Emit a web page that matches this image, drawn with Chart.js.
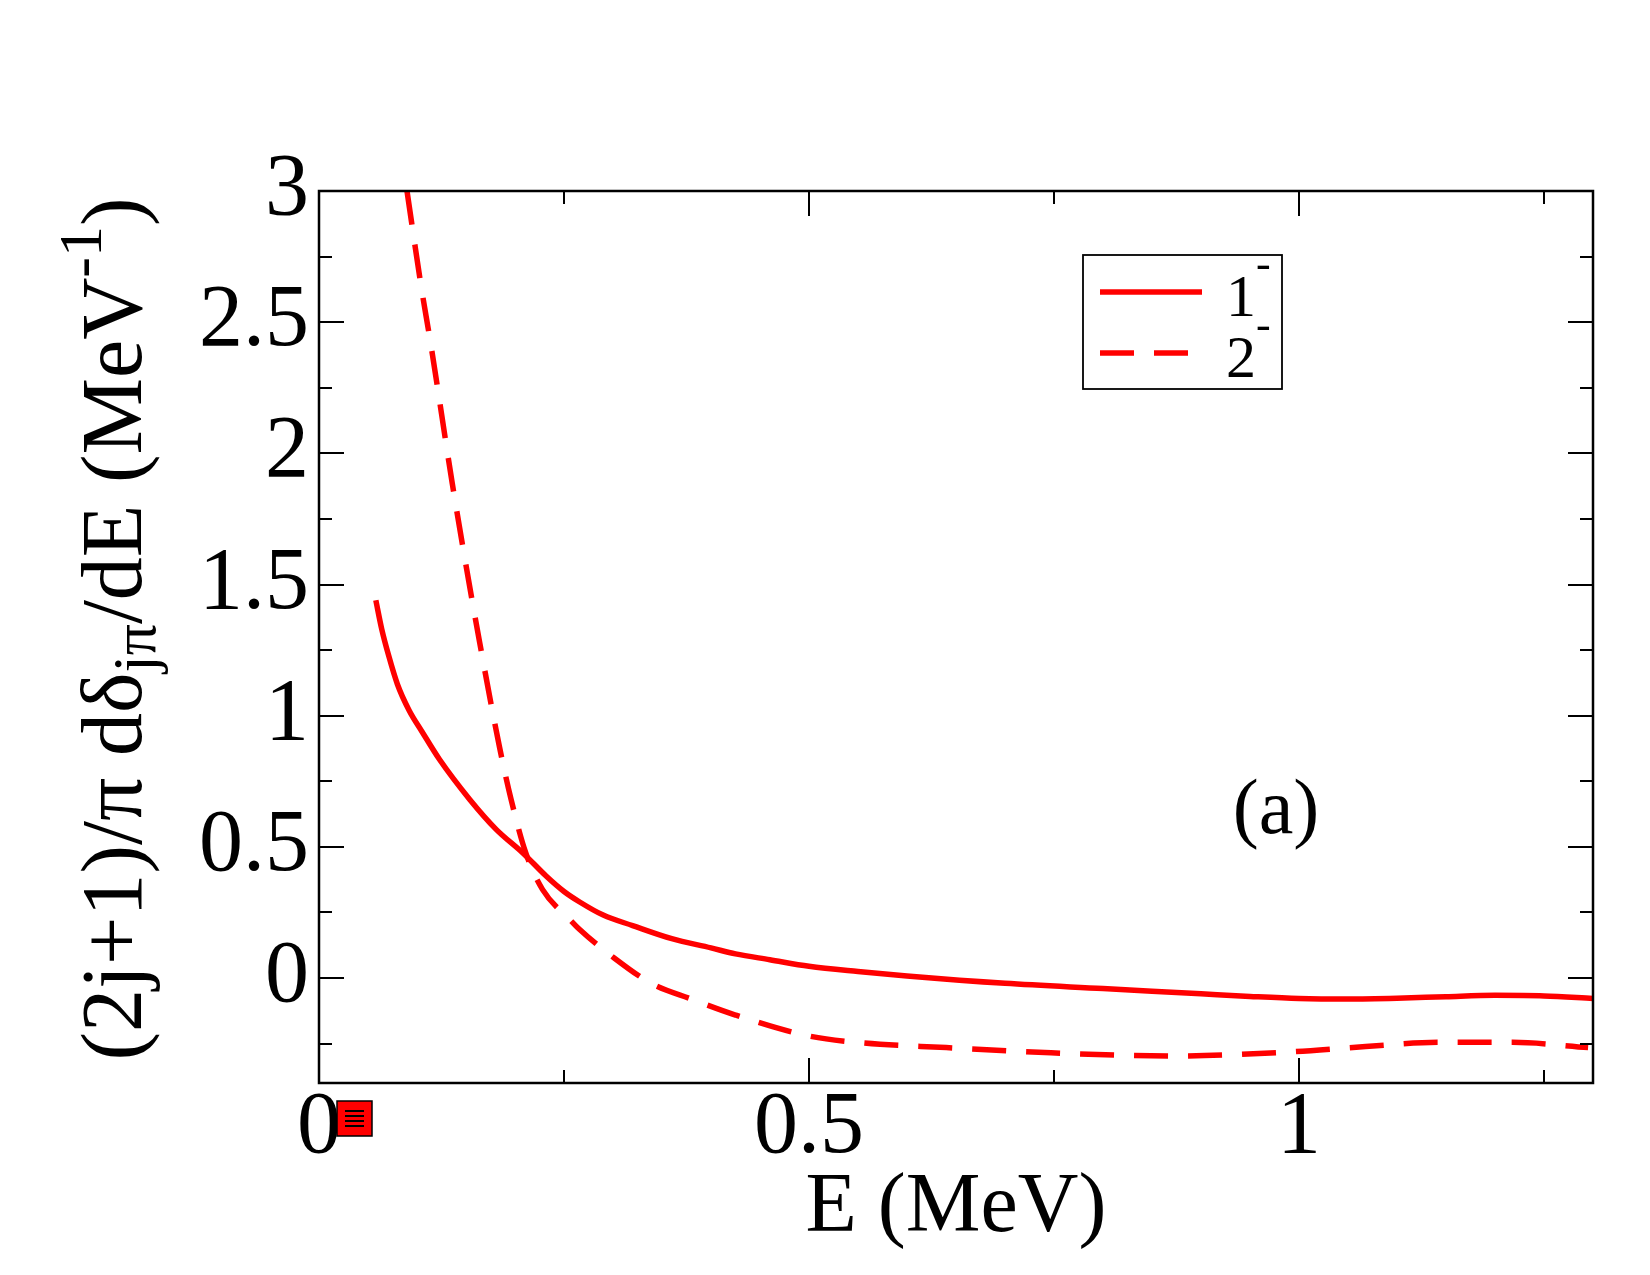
<!DOCTYPE html>
<html>
<head>
<meta charset="utf-8">
<script src="https://cdn.jsdelivr.net/npm/chart.js@4.4.0/dist/chart.umd.min.js"></script>
<style>
  body { margin: 0; background: #fff; }
  #wrap { width: 1650px; height: 1275px; }
</style>
</head>
<body>
<div id="wrap"><canvas id="chart" width="1650" height="1275"></canvas></div>
<script>
// values, E in MeV
const energy1 = [0.058, 0.064, 0.071, 0.080, 0.092, 0.105, 0.123, 0.154, 0.181, 0.208, 0.232, 0.250, 0.266, 0.290, 0.320, 0.360, 0.400, 0.425, 0.460, 0.500, 0.550, 0.600, 0.700, 0.800, 0.900, 0.950, 1.000, 1.050, 1.100, 1.150, 1.200, 1.250, 1.300];
const value1  = [1.44, 1.33, 1.23, 1.12, 1.02, 0.94, 0.833, 0.68, 0.566, 0.477, 0.388, 0.33, 0.29, 0.24, 0.20, 0.15, 0.115, 0.092, 0.07, 0.045, 0.025, 0.008, -0.02, -0.04, -0.06, -0.07, -0.078, -0.08, -0.077, -0.071, -0.066, -0.068, -0.078];

const energy2 = [0.0898, 0.1038, 0.1145, 0.136, 0.149, 0.164, 0.184, 0.196, 0.211, 0.228, 0.256, 0.266, 0.300, 0.339, 0.380, 0.425, 0.500, 0.554, 0.640, 0.747, 0.875, 0.993, 1.068, 1.143, 1.218, 1.295];
const value2  = [3.0, 2.647, 2.406, 1.885, 1.595, 1.278, 0.884, 0.681, 0.477, 0.338, 0.223, 0.185, 0.08, -0.02, -0.08, -0.141, -0.221, -0.247, -0.265, -0.285, -0.297, -0.281, -0.261, -0.245, -0.245, -0.265];

const seriesNames = ['1', '2'];
const xTickValues = [0, 0.5, 1];
const yTickValues = [0, 0.5, 1, 1.5, 2, 2.5, 3];
const panelLabel = '(a)';

const serif = '"Liberation Serif", "Times New Roman", serif';

// box round the plot with inward ticks on all four sides
const frame = {
  id: 'frame',
  afterDatasetsDraw(chart) {
    const { ctx, chartArea: a, scales: { x, y } } = chart;
    const isMajor = v => Math.abs(v * 2 - Math.round(v * 2)) < 1e-6;
    ctx.save();
    ctx.strokeStyle = '#000';
    ctx.lineWidth = 2;
    ctx.beginPath();
    for (let v = 0.25; v < x.max - 1e-6; v += 0.25) {
      const px = Math.round(x.getPixelForValue(v));
      const len = isMajor(v) ? 25 : 13;
      ctx.moveTo(px, a.bottom); ctx.lineTo(px, a.bottom - len);
      ctx.moveTo(px, a.top); ctx.lineTo(px, a.top + len);
    }
    for (let v = -0.25; v < y.max - 1e-6; v += 0.25) {
      const py = Math.round(y.getPixelForValue(v));
      const len = isMajor(v) ? 25 : 13;
      ctx.moveTo(a.left, py); ctx.lineTo(a.left + len, py);
      ctx.moveTo(a.right, py); ctx.lineTo(a.right - len, py);
    }
    ctx.stroke();
    ctx.lineWidth = 2.5;
    ctx.strokeRect(a.left, a.top, a.right - a.left, a.bottom - a.top);
    ctx.restore();
  }
};

function drawParts(ctx, parts, x0, y0) {
  let cx = x0;
  parts.forEach(p => {
    ctx.font = p.size + 'px ' + serif;
    ctx.fillText(p.text, cx, y0 + (p.shift || 0));
    cx += ctx.measureText(p.text).width;
  });
}

function partsWidth(ctx, parts) {
  let w = 0;
  parts.forEach(p => {
    ctx.font = p.size + 'px ' + serif;
    w += ctx.measureText(p.text).width;
  });
  return w;
}

// y title with sub/superscripts, legend, panel label and the little marker
const extras = {
  id: 'extras',
  afterDraw(chart) {
    const { ctx, chartArea: a } = chart;
    ctx.save();
    ctx.fillStyle = '#000';
    ctx.textBaseline = 'alphabetic';
    ctx.textAlign = 'left';

    const yTitle = [
      { text: '(2j+1)/\u03c0 d\u03b4', size: 86 },
      { text: 'j\u03c0', size: 62, shift: 14 },
      { text: '/dE (MeV', size: 86 },
      { text: '-1', size: 62, shift: -40 },
      { text: ')', size: 86 }
    ];
    const tw = partsWidth(ctx, yTitle);
    ctx.save();
    ctx.translate(141, (a.top + a.bottom) / 2 - 8);
    ctx.rotate(-Math.PI / 2);
    drawParts(ctx, yTitle, -tw / 2, 0);
    ctx.restore();

    // legend
    const lx = a.left + 764, ly = a.top + 64;
    ctx.lineWidth = 1.8;
    ctx.strokeStyle = '#000';
    ctx.strokeRect(lx, ly, 199, 134);
    chart.data.datasets.forEach((ds, i) => {
      const rowY = ly + 37 + i * 61;
      ctx.save();
      ctx.strokeStyle = ds.borderColor;
      ctx.lineWidth = ds.borderWidth;
      ctx.setLineDash(ds.borderDash || []);
      ctx.beginPath();
      ctx.moveTo(lx + 17, rowY);
      ctx.lineTo(lx + 119, rowY);
      ctx.stroke();
      ctx.restore();
      drawParts(ctx, [
        { text: seriesNames[i], size: 60 },
        { text: '-', size: 44, shift: -38 }
      ], lx + 143, rowY + 24);
    });

    // panel label
    ctx.font = '78px ' + serif;
    ctx.textAlign = 'center';
    ctx.fillText(panelLabel, 1276, 833);

    // small red marker below the origin
    const mx = a.left + 18, my = a.bottom + 18;
    ctx.fillStyle = '#ff0000';
    ctx.fillRect(mx, my, 35, 35);
    ctx.lineWidth = 1.5;
    ctx.strokeStyle = '#000';
    ctx.strokeRect(mx, my, 35, 35);
    ctx.lineWidth = 2;
    ctx.beginPath();
    for (let k = 0; k < 4; k++) {
      ctx.moveTo(mx + 8, my + 10 + k * 5);
      ctx.lineTo(mx + 27, my + 10 + k * 5);
    }
    ctx.stroke();
    ctx.restore();
  }
};

const ctx = document.querySelector('#chart').getContext('2d');
const chart = new Chart(ctx, {
  type: 'line',
  data: {
    datasets: [{
      label: seriesNames[0],
      data: energy1.map((e, i) => ({ x: e, y: value1[i] })),
      borderColor: '#ff0000',
      borderWidth: 5.5,
      pointRadius: 0,
      cubicInterpolationMode: 'monotone',
      clip: 0
    }, {
      label: seriesNames[1],
      data: energy2.map((e, i) => ({ x: e, y: value2[i] })),
      borderColor: '#ff0000',
      borderWidth: 5.5,
      borderDash: [34, 20],
      pointRadius: 0,
      cubicInterpolationMode: 'monotone',
      clip: 0
    }]
  },
  options: {
    responsive: false,
    animation: false,
    layout: { padding: { top: 191, right: 57, left: 0, bottom: 0 } },
    scales: {
      x: {
        type: 'linear',
        min: 0,
        max: 1.3,
        afterBuildTicks: s => { s.ticks = xTickValues.map(v => ({ value: v })); },
        afterFit: s => { s.height = 192; },
        grid: { display: false, drawTicks: false },
        border: { display: false },
        ticks: {
          color: '#000',
          padding: 2,
          maxRotation: 0,
          font: { family: serif, size: 88, lineHeight: 1 },
          callback: v => String(v)
        },
        title: {
          display: true,
          text: 'E (MeV)',
          color: '#000',
          font: { family: serif, size: 84, lineHeight: 1 },
          padding: { top: 0, bottom: 24 }
        }
      },
      y: {
        min: -0.4,
        max: 3,
        afterBuildTicks: s => { s.ticks = yTickValues.map(v => ({ value: v })); },
        afterFit: s => { s.width = 319; },
        grid: { display: false, drawTicks: false },
        border: { display: false },
        ticks: {
          color: '#000',
          padding: 10,
          font: { family: serif, size: 88, lineHeight: 1 },
          callback: v => String(v)
        }
      }
    },
    plugins: {
      legend: { display: false },
      tooltip: { enabled: false }
    }
  },
  plugins: [frame, extras]
});
</script>
</body>
</html>
